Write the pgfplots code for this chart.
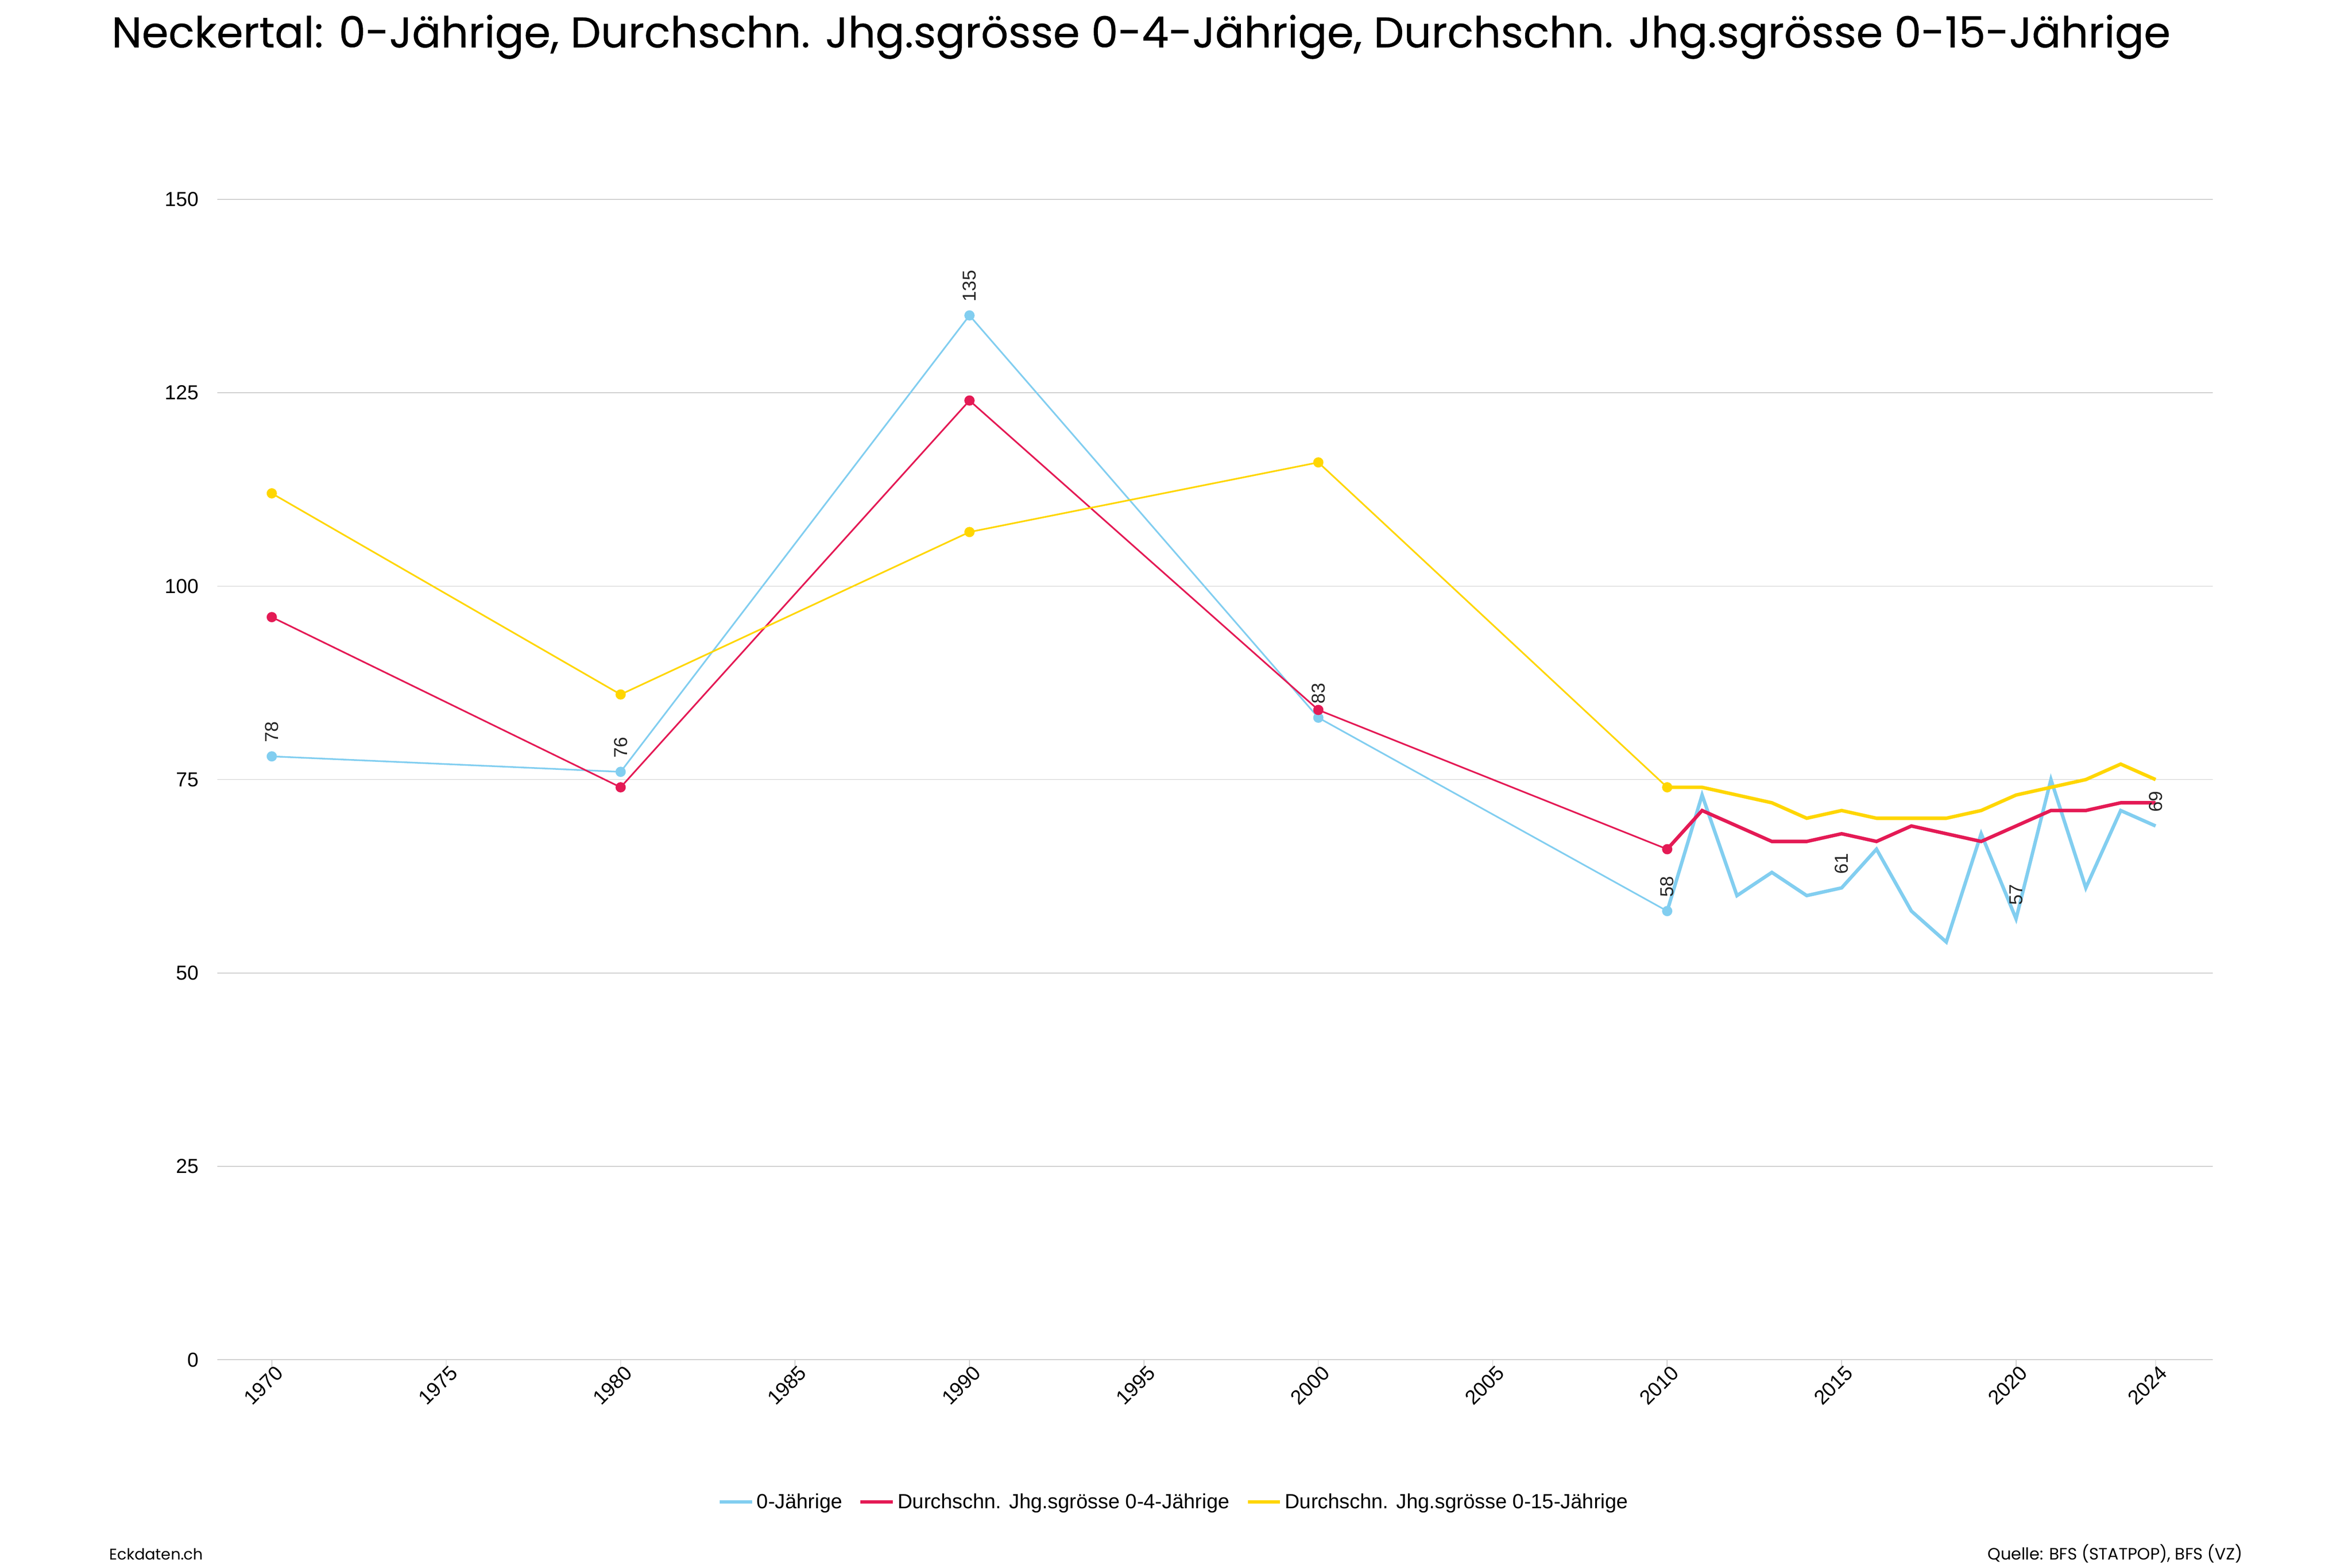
\documentclass[border=0pt]{standalone}
\usepackage{fontspec}
\setmainfont{Liberation Sans}
\newfontfamily\titlefont{Poppins}[FakeBold=0.4]
\newfontfamily\footfont{Poppins}
\usepackage{pgfplots}
\pgfplotsset{compat=1.18}
\definecolor{cblue}{RGB}{130,206,240}
\definecolor{cred}{RGB}{228,26,85}
\definecolor{cyel}{RGB}{255,214,0}
\definecolor{cgrid}{RGB}{204,204,204}
\begin{document}
\begin{tikzpicture}
\path[use as bounding box] (0,0) rectangle (1562.5bp,1041.75bp);
\begin{axis}[
  at={(144.4bp,138.25bp)}, anchor=south west, scale only axis,
  width=1325.6bp, height=771bp,
  xmin=1968.44, xmax=2025.64, ymin=0, ymax=150,
  axis x line*=bottom, axis y line*=left,
  y axis line style={draw=none},
  x axis line style={cgrid, line width=0.5bp, -},
  xtick={1970,1975,1980,1985,1990,1995,2000,2005,2010,2015,2020,2024},
  ytick={0,25,50,75,100,125,150},
  ymajorgrids, grid style={cgrid, line width=0.5bp},
  tick align=outside, major tick length=6bp,
  xtick style={cgrid, line width=0.5bp},
  ytick style={draw=none},
  /pgf/number format/assume math mode=true,
  /pgf/number format/set thousands separator={},
  tick label style={font=\fontsize{13.5}{15}\selectfont},
  xticklabel style={xshift=-5.5bp, yshift=-11bp, anchor=center, rotate=45},
  yticklabel style={anchor=east, xshift=-3bp},
  clip=false,
  legend style={at={(0.4797,-0.1226)}, anchor=center, draw=none,
    font=\fontsize{13.7}{15}\selectfont,
    /tikz/every even column/.append style={column sep=9bp}},
  legend columns=-1,
  legend image code/.code={\draw[line width=2.2bp] (0bp,0bp) -- (21.5bp,0bp);},
]
% sparse years (thin, with markers)
\addplot[cblue, line width=1.1bp, mark=*, mark size=3.3bp, mark options={line width=0.2bp}, forget plot]
  coordinates {(1970,78) (1980,76) (1990,135) (2000,83) (2010,58)};
\addplot[cred, line width=1.1bp, mark=*, mark size=3.3bp, mark options={line width=0.2bp}, forget plot]
  coordinates {(1970,96) (1980,74) (1990,124) (2000,84) (2010,66)};
\addplot[cyel, line width=1.1bp, mark=*, mark size=3.3bp, mark options={line width=0.2bp}, forget plot]
  coordinates {(1970,112) (1980,86) (1990,107) (2000,116) (2010,74)};
% annual years (thick)
\addplot[cblue, line width=2.3bp] coordinates {
  (2010,58) (2011,73) (2012,60) (2013,63) (2014,60) (2015,61) (2016,66) (2017,58)
  (2018,54) (2019,68) (2020,57) (2021,75) (2022,61) (2023,71) (2024,69)};
\addlegendentry{0-Jährige}
\addplot[cred, line width=2.3bp] coordinates {
  (2010,66) (2011,71) (2012,69) (2013,67) (2014,67) (2015,68) (2016,67) (2017,69)
  (2018,68) (2019,67) (2020,69) (2021,71) (2022,71) (2023,72) (2024,72)};
\addlegendentry{Durchschn. Jhg.sgrösse 0-4-Jährige}
\addplot[cyel, line width=2.3bp] coordinates {
  (2010,74) (2011,74) (2012,73) (2013,72) (2014,70) (2015,71) (2016,70) (2017,70)
  (2018,70) (2019,71) (2020,73) (2021,74) (2022,75) (2023,77) (2024,75)};
\addlegendentry{Durchschn. Jhg.sgrösse 0-15-Jährige}
% data labels
\addplot[draw=none, mark=none, forget plot, nodes near coords, point meta=explicit symbolic,
  nodes near coords style={text=black!85, font=\fontsize{12.5}{14}\selectfont, rotate=90, anchor=west, inner sep=0pt, inner xsep=9bp}]
  coordinates {(1970,78)[78] (1980,76)[76] (1990,135)[135] (2000,83)[83] (2010,58)[58] (2015,61)[61] (2020,57)[57] (2024,69)[69]};
\end{axis}
\node[anchor=base west, inner sep=0pt, font=\titlefont\fontsize{28.6}{34}\selectfont] at (74bp,1010.25bp)
  {Neckertal: 0-Jährige, Durchschn. Jhg.sgrösse 0-4-Jährige, Durchschn. Jhg.sgrösse 0-15-Jährige};
\node[anchor=base west, inner sep=0pt, font=\footfont\fontsize{10.3}{12}\selectfont] at (72.5bp,5.25bp) {Eckdaten.ch};
\node[anchor=base east, inner sep=0pt, font=\footfont\fontsize{11}{12}\selectfont] at (1490bp,5.25bp) {Quelle: BFS (STATPOP), BFS (VZ)};
\end{tikzpicture}
\end{document}
